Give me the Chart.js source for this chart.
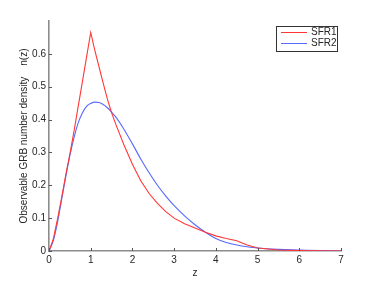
<!DOCTYPE html>
<html>
<head>
<meta charset="utf-8">
<script src="https://cdn.jsdelivr.net/npm/chart.js@4/dist/chart.umd.min.js"></script>
<style>
  html, body { margin: 0; padding: 0; background: #fff; }
  #wrap { width: 377px; height: 283px; position: relative; }
</style>
</head>
<body>
<div id="wrap"><canvas id="plot"></canvas></div>
<script>
var zValues = [0, 0.1, 0.2, 0.3, 0.4, 0.5, 0.6, 0.7, 0.8, 0.9, 1.0, 1.1, 1.2, 1.3, 1.4, 1.5, 1.6, 1.8,
               2.0, 2.2, 2.4, 2.6, 2.8, 3.0, 3.25, 3.5, 3.75, 4.0, 4.25, 4.5, 4.75, 5.0, 5.5, 6.0, 6.5, 7.0];
var sfr1 = [0, 0.035, 0.095, 0.16, 0.23, 0.295, 0.365, 0.44, 0.515, 0.59, 0.665, 0.61, 0.56, 0.51, 0.462, 0.421, 0.386, 0.322,
            0.264, 0.214, 0.175, 0.145, 0.12, 0.1, 0.083, 0.07, 0.057, 0.046, 0.038, 0.031, 0.018, 0.009, 0.003, 0.001, 0.0003, 0];
var sfr2 = [0, 0.03, 0.085, 0.155, 0.225, 0.29, 0.345, 0.39, 0.42, 0.44, 0.449, 0.453, 0.452, 0.446, 0.436, 0.423, 0.408, 0.37,
            0.326, 0.28, 0.238, 0.2, 0.167, 0.138, 0.107, 0.08, 0.057, 0.038, 0.026, 0.018, 0.013, 0.009, 0.005, 0.003, 0.001, 0];
var seriesNames = ["SFR1", "SFR2"];
var xTicks = [0, 1, 2, 3, 4, 5, 6, 7];
var yTicks = [0, 0.1, 0.2, 0.3, 0.4, 0.5, 0.6];

var FONT = "'Liberation Sans', Arial, sans-serif";
var TXT = "#262626";
var AXIS = "#8c8c8c";

function pairs(ys) {
  return zValues.map(function(z, i) { return { x: z, y: ys[i] }; });
}

// tick marks drawn inward, plus the boxed legend in the upper right
var decor = {
  id: "decor",
  afterDraw: function(chart) {
    var ctx = chart.ctx, xs = chart.scales.x, ys = chart.scales.y, a = chart.chartArea;
    ctx.save();
    ctx.strokeStyle = "#555";
    ctx.lineWidth = 1;
    xTicks.forEach(function(v) {
      var px = Math.round(xs.getPixelForValue(v)) + 0.5;
      ctx.beginPath(); ctx.moveTo(px, a.bottom); ctx.lineTo(px, a.bottom - 3); ctx.stroke();
    });
    yTicks.forEach(function(v) {
      var py = Math.round(ys.getPixelForValue(v)) + 0.5;
      ctx.beginPath(); ctx.moveTo(a.left, py); ctx.lineTo(a.left + 3, py); ctx.stroke();
    });

    // legend
    var bx = 276, by = 26, bw = 61, bh = 25;
    ctx.fillStyle = "#fff";
    ctx.fillRect(bx, by, bw, bh);
    ctx.strokeStyle = "#333";
    ctx.lineWidth = 1;
    ctx.strokeRect(bx + 0.5, by + 0.5, bw, bh);
    ctx.font = "10px " + FONT;
    ctx.textBaseline = "middle";
    chart.data.datasets.forEach(function(ds, i) {
      var ly = by + 6.5 + i * 11;
      ctx.strokeStyle = ds.borderColor;
      ctx.beginPath(); ctx.moveTo(bx + 5, ly); ctx.lineTo(bx + 31, ly); ctx.stroke();
      ctx.fillStyle = TXT;
      ctx.fillText(ds.label, bx + 35, ly);
    });
    ctx.restore();
  }
};

new Chart(document.getElementById("plot"), {
  type: "scatter",
  data: {
    datasets: [
      { label: seriesNames[0], data: pairs(sfr1), showLine: true, borderColor: "rgb(255,55,55)",
        borderWidth: 1.1, pointRadius: 0, tension: 0 },
      { label: seriesNames[1], data: pairs(sfr2), showLine: true, borderColor: "rgb(85,105,255)",
        borderWidth: 1.1, pointRadius: 0, cubicInterpolationMode: "monotone" }
    ]
  },
  plugins: [decor],
  options: {
    responsive: true,
    maintainAspectRatio: false,
    animation: false,
    layout: { padding: { top: 21, right: 36, left: 0, bottom: 0 } },
    plugins: { legend: { display: false }, tooltip: { enabled: false } },
    scales: {
      x: {
        type: "linear", min: 0, max: 7,
        afterBuildTicks: function(s) { s.ticks = xTicks.map(function(v) { return { value: v }; }); },
        afterFit: function(s) { s.height = 32; },
        ticks: { padding: 3, color: TXT, font: { family: FONT, size: 10 }, maxRotation: 0 },
        grid: { display: false, drawTicks: false },
        border: { display: true, color: AXIS, width: 1.6 },
        title: { display: true, text: "z", color: TXT, font: { family: FONT, size: 10 }, padding: { top: 0, bottom: 4 } }
      },
      y: {
        type: "linear", min: 0, max: 0.7,
        afterBuildTicks: function(s) { s.ticks = yTicks.map(function(v) { return { value: v }; }); },
        afterFit: function(s) { s.width = 49; },
        ticks: { padding: 3, color: TXT, font: { family: FONT, size: 10 },
                 callback: function(v) { return v === 0 ? "0" : v.toFixed(1); } },
        grid: { display: false, drawTicks: false },
        border: { display: true, color: AXIS, width: 1.6 },
        title: { display: true, text: "Observable GRB number density    n(z)", color: TXT,
                 font: { family: FONT, size: 10 }, padding: { top: 18, bottom: 0 } }
      }
    }
  }
});
</script>
</body>
</html>
